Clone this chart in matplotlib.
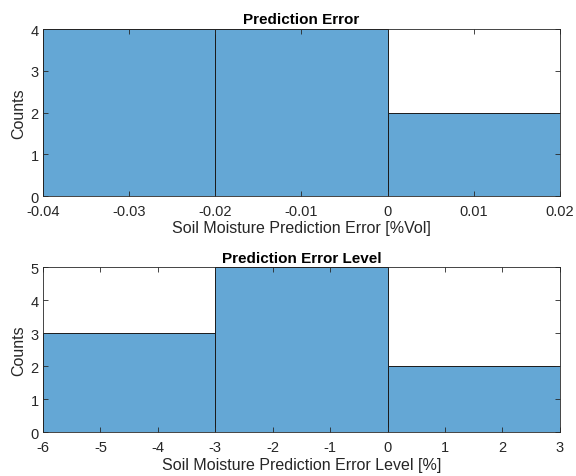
import numpy as np
import matplotlib
matplotlib.use("Agg")
import matplotlib.pyplot as plt

plt.rcParams['font.family'] = ['Liberation Sans', 'DejaVu Sans']

# Top histogram
edges1 = [-0.04, -0.02, 0.0, 0.02]
counts1 = [4, 4, 2]
xticks1 = [-0.04, -0.03, -0.02, -0.01, 0, 0.01, 0.02]
xticklabels1 = ['-0.04', '-0.03', '-0.02', '-0.01', '0', '0.01', '0.02']
yticks1 = [0, 1, 2, 3, 4]

# Bottom histogram
edges2 = [-6, -3, 0, 3]
counts2 = [3, 5, 2]
xticks2 = [-6, -5, -4, -3, -2, -1, 0, 1, 2, 3]
yticks2 = [0, 1, 2, 3, 4, 5]

face = (0.392, 0.655, 0.835)
txt = '#262626'

fig = plt.figure(figsize=(5.76, 4.77), dpi=100)
ax1 = fig.add_axes([0.0747, 0.587, 0.8973, 0.350])
ax2 = fig.add_axes([0.0747, 0.092, 0.8973, 0.346])

def hist(ax, edges, counts, xticks, xlabels, yticks, title, xlabel):
    e = np.array(edges, dtype=float)
    ax.bar(e[:-1], counts, width=np.diff(e), align='edge', color=face,
           edgecolor='#1a1a1a', linewidth=0.7)
    ax.set_xlim(e[0], e[-1])
    ax.set_ylim(yticks[0], yticks[-1])
    ax.set_xticks(xticks)
    ax.set_xticklabels(xlabels)
    ax.set_yticks(yticks)
    ax.tick_params(direction='in', top=True, right=True, length=3.5, width=0.6,
                   colors=txt, labelsize=10.5)
    ax.tick_params(axis='x', pad=6)
    ax.tick_params(axis='y', pad=3)
    for s in ax.spines.values():
        s.set_color(txt)
        s.set_linewidth(0.6)
    ax.set_title(title, fontsize=11, fontweight='bold', pad=4, color='black')
    ax.set_xlabel(xlabel, fontsize=11.5, color=txt, labelpad=1.5)
    ax.set_ylabel('Counts', fontsize=11.5, color=txt, labelpad=3)

hist(ax1, edges1, counts1, xticks1, xticklabels1, yticks1,
     'Prediction Error', 'Soil Moisture Prediction Error [%Vol]')
hist(ax2, edges2, counts2, xticks2, [str(t) for t in xticks2], yticks2,
     'Prediction Error Level', 'Soil Moisture Prediction Error Level [%]')

fig.savefig('out.png', dpi=100)
